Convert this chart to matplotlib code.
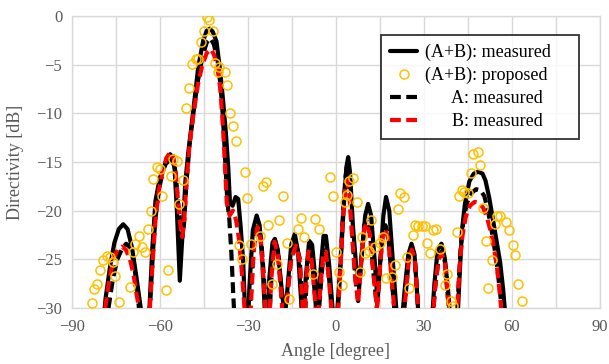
import matplotlib
matplotlib.use("Agg")
import matplotlib.pyplot as plt
import numpy as np

plt.rcParams['font.family'] = ['Liberation Serif', 'DejaVu Serif']

# (A+B): measured
ab_meas_ang = [-80.0, -78.5, -77.0, -75.5, -74.0, -72.5, -71.0, -69.5, -68.0, -66.3, -65.0,
               -63.7, -62.6, -61.5, -60.0, -58.0, -56.0, -55.0, -54.2, -53.2, -52.3, -51.3,
               -50.3, -48.6, -46.9, -45.2, -44.0, -43.0, -42.0, -40.7, -39.5, -38.5, -37.5,
               -36.7, -36.1, -35.2, -34.2, -33.3, -32.5, -31.6, -31.0, -30.3, -29.5, -28.3,
               -27.0, -26.0, -25.0, -24.2, -23.5, -22.7, -21.6, -20.8, -19.8, -18.5, -17.4,
               -16.5, -15.2, -14.0, -12.9, -11.9, -11.2, -10.3, -9.1, -8.1, -7.0, -6.2,
               -5.2, -4.2, -3.4, -2.3, -1.0, 0.3, 1.5, 2.7, 3.6, 4.2, 4.8,
               5.8, 7.0, 8.0, 9.0, 10.0, 11.0, 12.0, 13.2, 14.2, 15.2, 16.2,
               17.1, 18.2, 19.5, 20.7, 22.0, 23.5, 24.7, 25.8, 26.8, 27.6, 28.3,
               30.5, 32.6, 33.6, 34.7, 36.0, 37.1, 38.2, 39.0, 40.2, 41.5, 42.3,
               43.0, 44.0, 45.5, 47.0, 48.5, 50.0, 51.0, 52.3, 53.6, 55.0, 56.0,
               57.0, 57.7, 58.5]
ab_meas_db = [-34.0, -29.0, -25.8, -23.3, -21.9, -21.4, -21.9, -23.8, -26.8, -30.5, -35.0,
              -31.0, -24.0, -19.0, -16.6, -15.2, -14.6, -15.6, -20.0, -27.2, -22.5, -17.0,
              -14.0, -9.7, -5.2, -2.5, -1.5, -1.3, -1.6, -2.6, -5.5, -8.5, -12.0,
              -15.5, -19.2, -19.5, -18.6, -18.8, -21.5, -25.2, -30.0, -35.0, -28.0, -22.0,
              -20.5, -21.5, -25.5, -30.5, -33.0, -27.0, -23.3, -22.9, -24.0, -28.0, -31.0,
              -28.0, -23.5, -22.4, -24.2, -29.0, -33.0, -27.0, -23.1, -23.5, -27.0, -31.0,
              -26.0, -22.6, -22.6, -25.5, -30.5, -31.0, -26.0, -19.5, -15.5, -14.5, -16.0,
              -21.5, -26.0, -27.5, -24.0, -20.5, -19.3, -20.5, -25.0, -29.2, -25.0, -20.5,
              -18.6, -20.0, -25.5, -30.5, -33.0, -28.0, -24.5, -23.4, -24.5, -28.0, -31.5,
              -35.0, -32.0, -27.5, -24.0, -23.4, -24.8, -28.0, -31.0, -36.0, -31.0, -26.0,
              -22.0, -19.3, -17.0, -16.2, -16.0, -16.2, -16.9, -18.7, -21.0, -23.5, -25.3,
              -28.0, -30.5, -34.0]

# A: measured
a_meas_ang = [-79.5, -77.5, -76.0, -74.5, -73.0, -71.5, -70.0, -68.8, -67.8, -66.8, -65.5,
              -64.0, -63.2, -62.3, -61.4, -60.3, -59.0, -57.7, -56.5, -55.5, -54.6, -53.8,
              -53.0, -52.4, -51.8, -50.9, -49.8, -48.5, -47.0, -45.5, -44.0, -42.8, -41.6,
              -40.3, -39.3, -38.6, -38.0, -37.5, -37.0, -36.3, -35.6, -35.0, -34.5, -33.5,
              -31.0, -29.2, -28.0, -26.6, -25.5, -24.6, -23.7, -22.9, -21.9, -20.8, -19.7,
              -18.7, -17.7, -16.5, -15.2, -13.6, -12.4, -11.5, -10.8, -10.1, -9.3, -8.2,
              -7.2, -6.2, -5.2, -4.2, -3.3, -2.3, -1.2, 0.0, 1.2, 2.3, 3.2,
              3.9, 4.5, 5.5, 6.6, 7.6, 8.6, 9.7, 10.6, 11.6, 12.8, 14.0,
              15.0, 16.0, 16.9, 17.9, 19.0, 20.2, 22.0, 23.7, 24.9, 25.9, 26.9,
              27.7, 28.5, 30.5, 32.7, 33.8, 35.0, 36.1, 37.2, 38.2, 39.0, 40.5,
              41.6, 42.5, 43.5, 44.7, 46.2, 47.8, 49.3, 50.6, 51.7, 52.8, 53.9,
              55.0, 56.0, 57.0, 58.0]
a_meas_db = [-35.0, -30.0, -27.0, -25.0, -24.0, -23.4, -23.8, -25.5, -28.0, -31.0, -36.0,
             -33.0, -29.0, -24.0, -20.5, -17.8, -16.0, -14.7, -14.2, -14.6, -16.2, -19.2,
             -21.8, -22.8, -21.5, -17.0, -13.0, -9.8, -6.6, -4.2, -2.7, -2.3, -2.9,
             -4.6, -7.2, -10.0, -13.2, -16.2, -19.0, -21.0, -24.5, -28.5, -31.5, -37.0,
             -35.0, -29.5, -23.8, -21.5, -22.8, -26.5, -31.0, -32.5, -26.5, -23.0, -24.3,
             -28.0, -32.0, -28.5, -24.8, -23.4, -24.8, -29.0, -33.0, -28.0, -24.0, -24.8,
             -28.5, -32.0, -28.0, -24.3, -24.0, -27.0, -31.0, -34.0, -27.5, -21.0, -16.8,
             -15.0, -17.2, -22.0, -26.8, -29.3, -25.2, -21.5, -20.9, -22.2, -26.3, -30.0,
             -25.8, -22.2, -21.5, -22.6, -27.0, -31.0, -34.0, -29.0, -24.8, -23.7, -24.8,
             -28.5, -32.0, -35.0, -32.5, -28.0, -25.0, -24.2, -25.3, -29.0, -32.0, -35.0,
             -29.0, -24.0, -21.0, -19.2, -18.2, -17.8, -17.9, -18.5, -19.8, -21.5, -23.5,
             -25.8, -28.5, -31.5, -35.0]

# B: measured
b_meas_ang = [-80.0, -78.6, -77.2, -75.8, -74.4, -73.0, -71.6, -70.2, -69.0, -68.0, -66.8,
              -65.5, -64.2, -63.3, -62.4, -61.5, -60.4, -59.2, -57.8, -56.5, -55.5, -54.7,
              -53.8, -53.0, -52.4, -51.8, -50.9, -49.8, -48.5, -47.0, -45.5, -44.0, -42.6,
              -41.5, -40.3, -39.4, -38.8, -38.2, -37.7, -37.2, -36.2, -35.1, -34.0, -33.0,
              -32.0, -31.0, -30.0, -29.0, -28.0, -26.7, -25.6, -24.7, -23.8, -23.0, -22.0,
              -20.9, -19.8, -18.8, -17.8, -16.6, -15.3, -13.6, -12.4, -11.5, -10.9, -10.2,
              -9.4, -8.3, -7.3, -6.3, -5.3, -4.3, -3.4, -2.4, -1.3, 0.0, 1.2,
              2.3, 3.2, 3.8, 4.5, 5.5, 6.6, 7.6, 8.6, 9.7, 10.5, 11.6,
              12.8, 14.0, 15.0, 16.0, 16.8, 17.8, 19.0, 20.2, 22.0, 23.7, 24.9,
              25.9, 26.9, 27.7, 28.5, 30.5, 32.7, 33.8, 35.0, 36.1, 37.2, 38.2,
              39.0, 40.2, 41.4, 42.3, 43.2, 44.3, 45.7, 47.3, 48.8, 50.2, 51.4,
              52.5, 53.7, 54.8, 55.9, 56.8, 57.8]
b_meas_db = [-35.0, -30.0, -27.0, -25.0, -24.0, -23.7, -24.0, -25.0, -26.5, -28.5, -30.5,
             -35.0, -33.0, -29.5, -25.0, -21.0, -18.0, -16.2, -14.6, -14.0, -14.4, -15.8,
             -19.0, -21.5, -22.7, -21.5, -17.0, -13.0, -10.0, -7.0, -5.0, -3.8, -3.4,
             -4.0, -5.5, -7.5, -10.0, -13.0, -16.0, -19.2, -20.5, -20.0, -21.0, -23.0,
             -26.5, -30.5, -36.0, -30.0, -24.0, -21.7, -23.0, -27.0, -31.0, -33.0, -27.0,
             -23.2, -24.5, -28.0, -32.0, -29.0, -25.0, -23.6, -25.0, -29.0, -33.0, -28.0,
             -24.2, -25.0, -28.5, -32.0, -28.0, -24.5, -24.2, -27.0, -31.0, -34.0, -28.0,
             -21.5, -17.5, -16.9, -18.0, -22.5, -27.0, -29.5, -25.5, -21.8, -21.3, -22.5,
             -26.5, -30.0, -26.0, -22.5, -21.9, -22.8, -27.0, -31.0, -34.0, -29.0, -25.0,
             -24.0, -25.0, -28.5, -32.0, -35.0, -32.5, -28.0, -25.0, -24.4, -25.5, -29.0,
             -32.0, -35.0, -30.0, -25.2, -22.5, -20.6, -19.5, -19.1, -19.2, -19.7, -20.6,
             -21.8, -23.5, -25.5, -28.5, -31.5, -35.0]

# (A+B): proposed
ab_prop_ang = [-83.2, -82.5, -81.3, -80.3, -79.3, -78.1, -76.9, -76.0, -75.2, -74.1,
               -70.2, -69.0, -68.4, -67.1, -66.0, -65.1, -64.2, -63.1, -62.2, -61.1,
               -59.9, -59.2, -58.0, -57.2, -56.1, -55.4, -54.0, -53.4, -52.2, -51.0,
               -50.2, -49.1, -47.7, -46.9, -46.1, -45.0, -44.1, -43.1, -41.8, -41.2,
               -39.7, -40.1, -37.8, -37.2, -36.1, -35.0, -34.1, -31.0, -30.2, -33.0,
               -32.1, -29.1, -25.9, -25.0, -23.9, -23.1, -21.9, -19.9, -19.3, -18.1,
               -16.8, -16.1, -12.0, -12.9, -10.9, -7.1, -5.8, -7.9, -2.0, -0.9,
               0.0, 1.1, 2.0, 3.1, 3.7, 4.4, 6.0, 7.1, 8.2, 9.0,
               10.0, 11.2, 12.0, 13.2, 15.1, 16.2, 17.2, 19.3, 20.0, 21.1,
               21.9, 23.2, 24.1, 25.0, 26.3, 26.9, 28.1, 29.2, 30.4, 31.0,
               32.1, 33.0, 34.1, 35.4, 38.0, 37.3, 39.2, 40.0, 41.2, 42.0,
               42.9, 43.8, 45.1, 46.0, 46.6, 48.3, 49.1, 50.0, 51.2, 51.9,
               53.1, 54.2, 54.8, 55.9, 58.0, 59.1, 60.5, 61.0, 62.2, 63.3]
ab_prop_db = [-29.5, -28.1, -27.5, -26.1, -25.1, -24.7, -24.8, -25.3, -26.7, -29.4,
              -27.8, -24.3, -23.4, -22.6, -23.7, -24.2, -21.9, -20.0, -16.7, -15.5,
              -15.7, -18.5, -28.2, -26.1, -16.4, -14.7, -14.9, -19.3, -16.9, -9.5,
              -7.4, -4.9, -4.4, -4.4, -2.7, -1.5, -0.1, -0.4, -1.5, -4.8,
              -5.2, -5.8, -5.8, -7.1, -10.0, -11.3, -12.8, -16.0, -18.7, -23.5,
              -25.0, -23.4, -22.6, -17.5, -17.1, -21.5, -27.5, -25.5, -21.0, -18.5,
              -23.3, -29.1, -20.8, -21.9, -22.7, -20.9, -21.9, -26.5, -16.5, -18.5,
              -24.2, -26.3, -27.6, -19.1, -18.4, -17.0, -16.6, -19.1, -26.3, -22.7,
              -24.4, -24.1, -21.0, -23.7, -23.3, -22.7, -26.9, -26.8, -25.6, -19.8,
              -18.2, -18.6, -24.8, -27.9, -22.5, -21.5, -21.6, -21.6, -21.6, -23.3,
              -24.4, -22.0, -21.9, -23.9, -26.5, -27.6, -29.3, -29.8, -22.2, -18.5,
              -17.9, -18.1, -18.2, -16.1, -14.2, -14.0, -15.3, -19.7, -23.1, -28.0,
              -25.1, -21.4, -20.5, -20.5, -21.2, -22.0, -23.5, -24.6, -27.5, -29.3]

x_ticks = [-90, -60, -30, 0, 30, 60, 90]
y_ticks = [0, -5, -10, -15, -20, -25, -30]

fig = plt.figure(figsize=(6.09, 3.64), dpi=100)
ax = fig.add_axes([0.118, 0.154, 0.867, 0.802])

grid_col = '#d9d9d9'
text_col = '#595959'

ax.plot(ab_meas_ang, ab_meas_db, color='black', lw=3.0, solid_joinstyle='round',
        solid_capstyle='round', label='(A+B): measured', zorder=3)
ax.plot(ab_prop_ang, ab_prop_db, ls='none', marker='o', ms=6.5, mfc='none',
        mec='#ffc000', mew=1.1, label='(A+B): proposed     ', zorder=6)
ax.plot(a_meas_ang, a_meas_db, color='black', lw=3.0, dashes=(2.6, 1.3),
        label='      A: measured', zorder=4)
ax.plot(b_meas_ang, b_meas_db, color='#ff0000', lw=3.0, dashes=(2.6, 1.3),
        label='      B: measured', zorder=5)

ax.set_xlim(-90, 90)
ax.set_ylim(-30, 0)
ax.set_xticks(x_ticks)
ax.set_xticks(np.arange(-75, 90, 30), minor=True)
ax.set_yticks(y_ticks)
ax.grid(True, which='both', color=grid_col, lw=1.0, zorder=0)
ax.set_axisbelow(True)
ax.tick_params(which='both', length=0, labelsize=12, colors=text_col)
ax.tick_params(axis='x', pad=8)
ax.tick_params(axis='y', pad=7)
for sp in ax.spines.values():
    sp.set_color(grid_col)
    sp.set_linewidth(1.0)

ax.set_xlabel('Angle [degree]', fontsize=13, color=text_col, labelpad=6)
ax.set_ylabel('Directivity [dB]', fontsize=13, color=text_col, labelpad=9)

leg = ax.legend(loc='upper right', bbox_to_anchor=(0.96, 0.935), borderaxespad=0,
                fontsize=13, frameon=True, fancybox=False, edgecolor='black',
                handlelength=1.5, handletextpad=0.4, labelspacing=0.32,
                borderpad=0.5)
leg.get_frame().set_linewidth(1.3)
leg.set_zorder(10)

fig.savefig('out.png', dpi=100)
